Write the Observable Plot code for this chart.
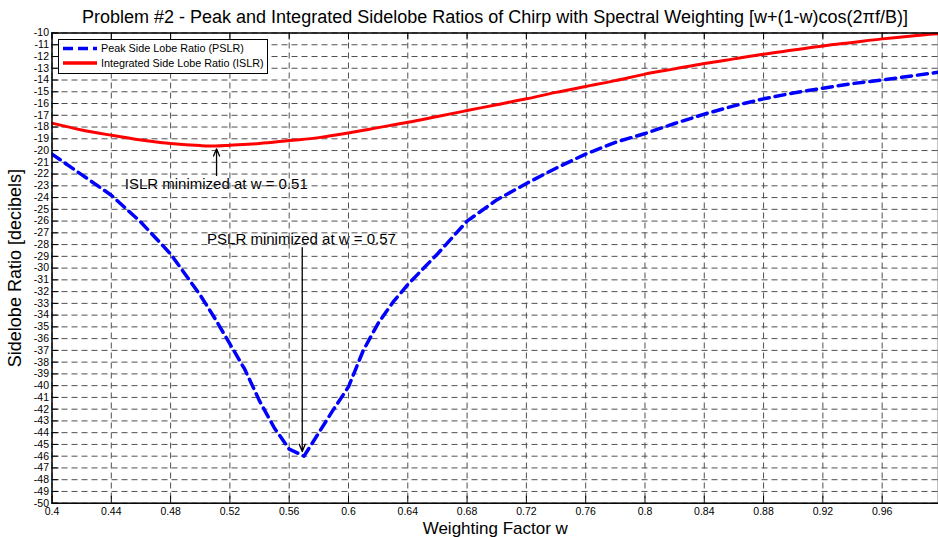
<!DOCTYPE html>
<html>
<head>
<meta charset="utf-8">
<script src="https://cdn.jsdelivr.net/npm/d3@7"></script>
<script src="https://cdn.jsdelivr.net/npm/@observablehq/plot@0.6"></script>
<style>
  body { margin: 0; background: #fff; font-family: "Liberation Sans", Arial, Helvetica, sans-serif; }
  #wrap { position: relative; width: 938px; height: 537px; overflow: hidden; }
  #title { position: absolute; left: 52px; width: 886px; top: 6.5px; line-height: 20px; text-align: center;
           font-size: 18px; color: #000; white-space: nowrap; }
  #legend { position: absolute; left: 0; top: 0; }
  #chart svg { overflow: hidden; }
</style>
</head>
<body>
<div id="wrap">
  <div id="chart"></div>
  <div id="title">Problem #2 - Peak and Integrated Sidelobe Ratios of Chirp with Spectral Weighting [w+(1-w)cos(2πf/B)]</div>
  <svg id="legend" width="938" height="90"></svg>
</div>
<script>
// ---- data ----
const wPSLR = [0.40, 0.42, 0.44, 0.46, 0.48, 0.50, 0.51, 0.52, 0.53, 0.54, 0.55, 0.56, 0.57,
               0.58, 0.59, 0.60, 0.61, 0.62, 0.63, 0.64, 0.66, 0.68, 0.70, 0.72, 0.74, 0.76,
               0.78, 0.80, 0.82, 0.84, 0.86, 0.88, 0.90, 0.92, 0.94, 0.96, 0.98, 1.00];
const vPSLR = [-20.3, -22.05, -23.8, -26.1, -28.8, -32.3, -34.3, -36.45, -38.6, -41.3, -43.6, -45.4, -46.0,
               -44.0, -42.0, -40.1, -37.0, -34.7, -32.9, -31.4, -28.8, -26.0, -24.2, -22.8, -21.5, -20.3,
               -19.3, -18.55, -17.7, -16.9, -16.2, -15.6, -15.1, -14.7, -14.3, -14.0, -13.65, -13.3];
const wISLR = [0.40, 0.42, 0.44, 0.46, 0.48, 0.50, 0.51, 0.52, 0.54, 0.56, 0.58, 0.60, 0.62, 0.64,
               0.66, 0.68, 0.70, 0.72, 0.74, 0.76, 0.78, 0.80, 0.82, 0.84, 0.86, 0.88, 0.90, 0.92,
               0.94, 0.96, 0.98, 1.00];
const vISLR = [-17.67, -18.25, -18.7, -19.1, -19.4, -19.58, -19.62, -19.55, -19.4, -19.15, -18.9, -18.5,
               -18.05, -17.6, -17.1, -16.6, -16.1, -15.6, -15.05, -14.55, -14.05, -13.5, -13.05, -12.6,
               -12.2, -11.8, -11.45, -11.1, -10.8, -10.5, -10.25, -10.05];

const xTicks = [0.4, 0.44, 0.48, 0.52, 0.56, 0.6, 0.64, 0.68, 0.72, 0.76, 0.8, 0.84, 0.88, 0.92, 0.96];
const yTicks = d3.range(-50, -9, 1);

const seriesNames = ["Peak Side Lobe Ratio (PSLR)", "Integrated Side Lobe Ratio (ISLR)"];
const seriesColors = ["#0000ff", "#ff0000"];

const noteText = ["ISLR minimized at w = 0.51", "PSLR minimized at w = 0.57"];
const noteX = [0.5108, 0.5683];
const noteY = [-22.87, -27.5];
const arrowX = [0.511, 0.5688];
const arrowFrom = [-22.12, -28.27];
const arrowTo = [-19.85, -45.6];

// ---- tables built from the arrays ----
const pslr = wPSLR.map((w, i) => ({w, v: vPSLR[i]}));
const islr = wISLR.map((w, i) => ({w, v: vISLR[i]}));
const notes = noteText.map((t, i) => ({t, x: noteX[i], y: noteY[i]}));
const arrows = arrowX.map((x, i) => ({x, y1: arrowFrom[i], y2: arrowTo[i]}));

const W = 938, H = 537, mT = 32.5, mB = 34.3, mL = 51.5, mR = 0;
const innerH = H - mT - mB;
const innerW = W - mL - mR;
const tickLen = 7;
const gridStyle = {stroke: "#505050", strokeOpacity: 1, strokeWidth: 1, strokeDasharray: "6,4"};

const chart = Plot.plot({
  width: W, height: H,
  marginTop: mT, marginBottom: mB, marginLeft: mL, marginRight: mR,
  style: {fontFamily: '"Liberation Sans", Arial, Helvetica, sans-serif', color: "#000", background: "#fff"},
  x: {domain: [0.4, 0.998]},
  y: {domain: [-50, -10]},
  marks: [
    Plot.text(notes, {x: "x", y: "y", text: "t", fontSize: 15, fill: "#000", textAnchor: "middle", lineAnchor: "middle"}),
    Plot.gridX(xTicks, gridStyle),
    Plot.gridY(yTicks, gridStyle),
    Plot.tickX(xTicks, {x: d => d, stroke: "#000", insetTop: innerH - tickLen}),
    Plot.tickX(xTicks, {x: d => d, stroke: "#000", insetBottom: innerH - tickLen}),
    Plot.tickY(yTicks, {y: d => d, stroke: "#000", insetRight: innerW - tickLen}),
    Plot.line(islr, {x: "w", y: "v", stroke: seriesColors[1], strokeWidth: 3, curve: "monotone-x", clip: true}),
    Plot.line(pslr, {x: "w", y: "v", stroke: seriesColors[0], strokeWidth: 3.5, strokeDasharray: "10,6", clip: true}),
    Plot.arrow(arrows, {x: "x", y1: "y1", y2: "y2", stroke: "#000", strokeWidth: 1.3, headLength: 9, headAngle: 45}),
    Plot.frame({stroke: "#000", strokeWidth: 1.5}),
    Plot.axisX(xTicks, {tickSize: 0, tickPadding: 4.5, fontSize: 10.5, tickFormat: d => String(d),
      label: "Weighting Factor w", labelAnchor: "center", labelOffset: 30.6, labelArrow: "none"}),
    Plot.axisY(yTicks, {tickSize: 0, tickPadding: 3, fontSize: 10.5, tickFormat: d => String(d),
      label: "Sidelobe Ratio [decibels]", labelAnchor: "center", labelOffset: 44, labelArrow: "none"})
  ]
});
// larger axis titles
d3.select(chart).selectAll("g[aria-label='x-axis label'] text").attr("font-size", 17);
d3.select(chart).selectAll("g[aria-label='y-axis label'] text").attr("font-size", 18);
document.getElementById("chart").appendChild(chart);

// ---- legend (inside the plot box, top-left) ----
const lg = d3.select("#legend");
lg.append("rect").attr("x", 58.5).attr("y", 39.5).attr("width", 209).attr("height", 34)
  .attr("fill", "#fff").attr("stroke", "#000").attr("stroke-width", 1);
seriesNames.forEach((name, i) => {
  const cy = 48.5 + i * 14.5;
  lg.append("line").attr("x1", 63).attr("x2", 97).attr("y1", cy).attr("y2", cy)
    .attr("stroke", seriesColors[i]).attr("stroke-width", 3.5)
    .attr("stroke-dasharray", i === 0 ? "10,5" : null);
  lg.append("text").attr("x", 101).attr("y", cy).attr("dy", "0.35em")
    .attr("font-size", 10.8).attr("fill", "#000")
    .attr("font-family", '"Liberation Sans", Arial, Helvetica, sans-serif')
    .text(name);
});
</script>
</body>
</html>
